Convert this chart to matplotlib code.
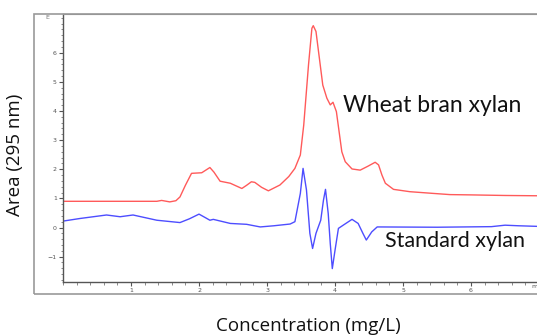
import matplotlib
matplotlib.use("Agg")
import matplotlib.pyplot as plt
from matplotlib.patches import Rectangle
from matplotlib.ticker import MultipleLocator

# Wheat bran xylan (red)
wheat_x = [0.0, 1.38, 1.45, 1.57, 1.66, 1.72, 1.80, 1.89, 2.04, 2.10, 2.16, 2.22, 2.31, 2.46,
           2.63, 2.70, 2.77, 2.82, 2.92, 3.02, 3.19, 3.32, 3.41, 3.49, 3.54, 3.61, 3.66, 3.68,
           3.72, 3.77, 3.82, 3.88, 3.93, 3.97, 4.02, 4.06, 4.10, 4.15, 4.25, 4.37, 4.48, 4.59,
           4.64, 4.69, 4.74, 4.86, 5.10, 5.45, 5.69, 6.00, 6.50, 6.97]
wheat_y = [0.90, 0.90, 0.93, 0.88, 0.92, 1.05, 1.45, 1.86, 1.88, 1.97, 2.06, 1.90, 1.59, 1.52,
           1.34, 1.45, 1.57, 1.55, 1.38, 1.26, 1.46, 1.75, 2.03, 2.49, 3.52, 5.58, 6.84, 6.93,
           6.73, 5.81, 4.89, 4.44, 4.21, 4.30, 3.98, 3.29, 2.60, 2.26, 2.01, 1.97, 2.10, 2.24,
           2.15, 1.80, 1.52, 1.31, 1.23, 1.17, 1.13, 1.12, 1.10, 1.09]

# Standard xylan (blue)
std_x = [0.0, 0.25, 0.64, 0.84, 1.03, 1.38, 1.72, 1.86, 2.00, 2.10, 2.16, 2.21, 2.46, 2.70,
         2.90, 3.10, 3.34, 3.41, 3.49, 3.53, 3.58, 3.63, 3.67, 3.72, 3.79, 3.83, 3.86, 3.90,
         3.93, 3.96, 4.00, 4.05, 4.12, 4.25, 4.34, 4.41, 4.46, 4.54, 4.62, 5.50, 6.30, 6.50,
         6.70, 6.97]
std_y = [0.22, 0.31, 0.43, 0.37, 0.43, 0.25, 0.17, 0.30, 0.46, 0.33, 0.25, 0.28, 0.14, 0.11,
         0.02, 0.06, 0.12, 0.20, 1.17, 2.03, 1.29, -0.20, -0.72, -0.20, 0.25, 0.94, 1.31, 0.48,
         -0.55, -1.41, -0.78, -0.03, 0.08, 0.28, 0.14, -0.20, -0.43, -0.15, 0.02, 0.01, 0.03,
         0.08, 0.06, 0.04]

x_ticks = [1, 2, 3, 4, 5, 6]
y_ticks = [-1, 0, 1, 2, 3, 4, 5, 6]

fig = plt.figure(figsize=(5.37, 3.36), dpi=100)
ax = fig.add_axes([63/537, 1-281.7/336, 1-63/537, (281.7-14)/336])

ax.plot(wheat_x, wheat_y, color="#ff5a5a", lw=1.0)
ax.plot(std_x, std_y, color="#4d4dff", lw=1.0)

ax.set_xlim(0, 6.97)
ax.set_ylim(-1.86, 7.33)
ax.set_xticks(x_ticks)
ax.set_yticks(y_ticks)
ax.xaxis.set_minor_locator(MultipleLocator(0.2))
ax.yaxis.set_minor_locator(MultipleLocator(0.2))
ax.tick_params(which="major", length=3, width=0.8, color="#555555", labelsize=4.5,
               labelcolor="#555555", pad=1.5)
ax.tick_params(which="minor", length=1.8, width=0.6, color="#777777")
ax.spines["right"].set_visible(False)
ax.spines["top"].set_color("#888888")
ax.spines["left"].set_color("#555555")
ax.spines["bottom"].set_color("#555555")
ax.spines["left"].set_linewidth(1.0)
ax.spines["bottom"].set_linewidth(1.0)

ax.text(-0.2, 7.3, "E", fontsize=4.5, color="#777777", ha="right", va="top")
ax.text(6.93, -1.93, "m", fontsize=4.5, color="#555555", ha="center", va="top", clip_on=False)

fam = ["Lato", "DejaVu Sans"]
ax.text(4.12, 4.2, "Wheat bran xylan", fontsize=16.5, family=fam, color="#111111", va="center")
ax.text(4.74, -0.47, "Standard xylan", fontsize=15.5, family=fam, color="#111111", va="center")

fam2 = ["Open Sans", "DejaVu Sans"]
fig.text(15/537, 1-155/336, "Area (295 nm)", rotation=90, fontsize=13.5, family=fam2,
         color="#111111", ha="center", va="center")
fig.text(308/537, 1-326/336, "Concentration (mg/L)", fontsize=13.5, family=fam2,
         color="#111111", ha="center", va="center")

# outer frame
fig.patches.append(Rectangle((34/537, 1-294/336), 1.0, (294-14)/336, transform=fig.transFigure,
                             fill=False, edgecolor="#999999", lw=1.2, zorder=0))

fig.savefig("out.png", dpi=100)
